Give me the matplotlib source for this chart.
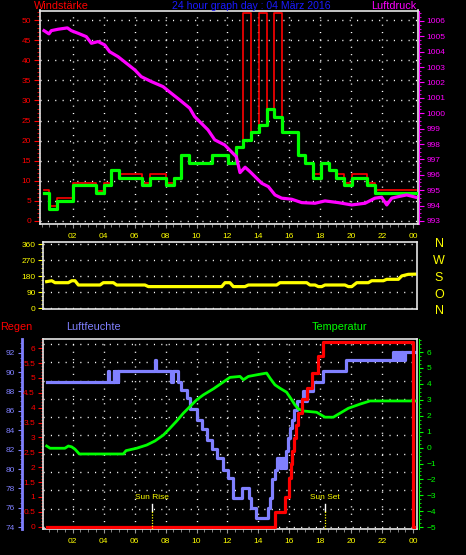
import numpy as np
import matplotlib
matplotlib.use('Agg')
import matplotlib.pyplot as plt
import matplotlib.transforms as mtransforms
from matplotlib.ticker import MultipleLocator

plt.rcParams['font.family'] = ['Liberation Sans', 'DejaVu Sans']

# --- Data ---

hour_ticks = list(range(2, 25, 2))
hour_labels = ['02', '04', '06', '08', '10', '12', '14', '16', '18', '20', '22', '00']

# wind speed: mean (green) and gusts (red), as steps
wind_hours = [0.15, 0.47, 0.99, 2.02, 3.53, 4.02, 4.46, 4.97, 6.48, 6.98, 8.01, 8.53,
              9.00, 9.52, 11.00, 12.02, 12.55, 13.02, 13.52, 14.06, 14.57, 15.01, 15.50,
              16.54, 17.01, 17.51, 18.04, 18.56, 19.01, 19.53, 20.03, 21.03, 21.53, 24.16]
wind_avg = [7.0, 3.0, 5.0, 8.9, 7.0, 8.9, 12.7, 10.8, 8.9, 10.8, 8.9, 10.8,
            16.4, 14.5, 16.4, 14.5, 18.3, 20.1, 22.1, 23.9, 27.9, 25.9, 22.2,
            16.4, 14.5, 10.8, 14.5, 12.7, 10.8, 8.9, 10.8, 8.9, 7.0, 7.0]
wind_gust = [7.6, 3.8, 5.6, 9.5, 7.4, 9.5, 12.7, 11.6, 9.5, 11.6, 9.5, 10.8,
             16.4, 14.5, 16.4, 14.5, 18.3, 51.7, 22.1, 51.7, 27.9, 51.7, 22.2,
             16.4, 14.5, 11.6, 14.5, 12.7, 11.6, 9.5, 11.6, 9.5, 7.6, 7.6]

# air pressure (hPa)
press_hours = [0.15, 0.47, 0.62, 1.05, 1.66, 1.91, 2.35, 2.88, 3.21, 3.64, 4.07, 4.39,
               4.93, 5.47, 6.01, 6.43, 7.08, 7.84, 8.37, 8.91, 9.56, 9.88, 10.31, 10.74,
               11.18, 11.82, 12.25, 12.57, 12.81, 13.14, 13.46, 13.78, 14.21, 14.64, 15.07,
               15.50, 16.15, 16.80, 17.66, 18.30, 19.16, 20.03, 20.89, 21.53, 21.96, 22.29,
               22.61, 23.04, 23.58, 24.16]
pressure = [1005.37, 1005.16, 1005.37, 1005.46, 1005.55, 1005.37, 1005.20, 1004.98,
            1004.55, 1004.66, 1004.44, 1004.00, 1003.68, 1003.25, 1002.82, 1002.38,
            1002.06, 1001.73, 1001.30, 1000.87, 1000.33, 999.78, 999.35, 998.92,
            998.27, 997.94, 997.50, 997.18, 996.14, 996.49, 996.20, 995.88, 995.45,
            995.23, 994.69, 994.48, 994.41, 994.19, 994.15, 994.30, 994.19, 994.04,
            994.15, 994.48, 994.54, 994.04, 994.48, 994.58, 994.69, 994.54]

# wind direction (degrees)
dir_hours = [0.32, 0.65, 0.86, 1.72, 1.94, 2.15, 2.37, 3.77, 3.98, 4.63, 4.84, 6.67,
             6.89, 11.63, 11.84, 12.16, 12.38, 13.13, 13.35, 15.18, 15.39, 17.12, 17.33,
             17.66, 17.87, 18.09, 18.30, 19.59, 19.81, 20.03, 20.35, 21.10, 21.32, 22.07,
             22.29, 23.04, 23.26, 23.68, 24.12]
wind_dir = [150, 155, 144, 144, 155, 155, 131, 131, 144, 144, 131, 131,
            122, 122, 144, 144, 122, 122, 131, 131, 144, 144, 131,
            131, 122, 122, 131, 131, 122, 122, 144, 144, 155, 155,
            163, 163, 182, 191, 192]

compass = ['N', 'W', 'S', 'O', 'N']

# humidity (%), steps
hum_hours = [0.32, 4.30, 4.34, 4.66, 4.70, 4.75, 4.80, 4.85, 4.90, 4.95, 7.32, 7.37,
             8.37, 8.45, 8.80, 9.02, 9.37, 9.58, 10.01, 10.38, 10.66, 10.98, 11.30,
             11.73, 12.05, 12.33, 12.91, 13.38, 13.51, 13.84, 14.63, 14.74, 14.89, 15.07,
             15.22, 15.39, 15.54, 15.65, 15.76, 15.88, 16.04, 16.19, 16.30, 16.47, 16.90,
             17.00, 17.12, 17.50, 18.15, 19.65, 22.71, 22.78, 22.85, 22.92, 23.00, 23.07,
             23.14, 23.25, 23.29, 23.42, 23.46, 24.12]
humidity = [89.0, 90.1, 89.0, 90.1, 89.0, 90.1, 89.0, 90.1, 89.0, 90.1, 91.2, 90.1,
            89.0, 90.1, 89.0, 88.2, 87.3, 86.2, 85.1, 84.1, 83.0, 82.1, 81.1,
            79.9, 79.1, 77.0, 78.0, 77.0, 76.0, 75.0, 76.0, 77.0, 79.0, 79.9,
            81.1, 80.1, 81.1, 80.1, 81.9, 83.2, 84.2, 85.1, 86.1, 87.0, 88.0,
            87.0, 88.0, 89.0, 90.1, 91.2, 92.1, 91.2, 92.1, 91.2, 92.1, 91.2,
            92.1, 91.2, 92.1, 91.2, 92.1, 92.1]

# temperature (deg C)
temp_hours = [0.32, 0.54, 1.50, 1.72, 1.93, 2.15, 2.43, 5.27, 5.45, 6.13, 6.78, 7.32,
              7.86, 8.29, 8.72, 9.15, 9.58, 10.01, 10.44, 11.09, 11.63, 12.16, 12.81,
              13.03, 13.35, 13.89, 14.53, 14.75, 15.07, 15.39, 15.82, 16.15, 16.36, 16.58,
              16.90, 17.76, 18.30, 18.84, 19.27, 19.81, 20.56, 21.21, 24.12]
temperature = [0.10, -0.04, -0.04, 0.10, 0.05, -0.10, -0.40, -0.40, -0.19, -0.04, 0.16, 0.42,
               0.79, 1.22, 1.67, 2.16, 2.58, 3.00, 3.31, 3.69, 4.05, 4.41, 4.47,
               4.26, 4.47, 4.57, 4.68, 4.36, 3.94, 3.73, 3.48, 3.00, 2.68, 2.43,
               2.30, 2.22, 1.91, 1.91, 2.16, 2.47, 2.73, 2.93, 2.93]

# rain (mm, cumulative), steps
rain_hours = [0.32, 15.07, 15.72, 15.97, 16.10, 16.20, 16.30, 16.42, 16.55, 16.79,
              17.16, 17.48, 17.87, 18.20, 23.96, 24.05]
rain = [0.0, 0.5, 1.0, 1.64, 2.09, 2.54, 2.99, 3.41, 3.83, 4.28,
        4.67, 5.17, 5.74, 6.22, 0.0, 0.0]

sun_rise = 7.15
sun_set = 18.3

# --- Layout helpers ---
W, H = 466, 555
FRAME = '#e6e6e6'
DOT = (0, (0.8, 4.5))
GREEN = '#00ff00'
MAGENTA = '#ff00ff'
LAVENDER = '#8080ff'


def px_box(left, top, right, bottom):
    return [left / W, 1 - bottom / H, (right - left) / W, (bottom - top) / H]


def hour_lim(left, right):
    # 00h sits at x=41.7 px, 15.48 px per hour in the reference
    return ((left - 41.7) / 15.48, (right - 41.7) / 15.48)


def frame(ax):
    for s in ax.spines.values():
        s.set_color(FRAME)
        s.set_linewidth(1.2)


def hide_spines(ax, keep=None):
    for name, s in ax.spines.items():
        if name != keep:
            s.set_visible(False)


def fig_text(x, y, s, **kw):
    fig.text(x / W, 1 - y / H, s, **kw)


fig = plt.figure(figsize=(W / 100, H / 100), dpi=100, facecolor='black')

# --- Top panel: wind speed + pressure ---
ax1 = fig.add_axes(px_box(39.5, 10.5, 417.7, 224))
ax1.set_facecolor('black')
ax1.set_xlim(*hour_lim(39.5, 417.7))
ax1.set_ylim(-0.75, 52.4)
ax1.step(wind_hours, wind_gust, where='post', color='red', lw=1.2, zorder=2)
ax1.step(wind_hours, wind_avg, where='post', color=GREEN, lw=2.3, zorder=3)
ax1.set_yticks(np.arange(0, 51, 5))
ax1.yaxis.set_minor_locator(MultipleLocator(1))
ax1.set_xticks(hour_ticks, hour_labels)
ax1.xaxis.set_minor_locator(MultipleLocator(0.5))
ax1.tick_params(axis='y', which='both', colors='red', labelsize=6, pad=2)
ax1.tick_params(axis='y', which='major', length=4)
ax1.tick_params(axis='y', which='minor', length=2)
ax1.tick_params(axis='x', which='both', colors='#999999', labelcolor='yellow',
                labelsize=6, pad=3.5)
ax1.tick_params(axis='x', which='major', length=3)
ax1.tick_params(axis='x', which='minor', length=2)
ax1.grid(True, color='white', ls=DOT, lw=1)
frame(ax1)

ax1p = ax1.twinx()
ax1p.set_ylim(992.8, 1006.68)
ax1p.plot(press_hours, pressure, color=MAGENTA, lw=2.3)
ax1p.set_yticks(range(993, 1007))
ax1p.yaxis.set_minor_locator(MultipleLocator(0.25))
ax1p.tick_params(axis='y', which='both', colors=MAGENTA, labelsize=6, pad=2)
ax1p.tick_params(axis='y', which='major', length=3.5)
ax1p.tick_params(axis='y', which='minor', length=1.5)
hide_spines(ax1p, 'right')
ax1p.spines['right'].set_color(MAGENTA)
ax1p.spines['right'].set_position(('outward', 1))

fig_text(61.3, 6, 'Windstärke', color='red', fontsize=7.8, ha='center', va='center')
fig_text(251.3, 6, '24 hour graph day : 04 März 2016', color='#1a1aff', fontsize=7.6,
         ha='center', va='center')
fig_text(393.7, 6, 'Luftdruck', color=MAGENTA, fontsize=7.8, ha='center', va='center')

# --- Middle panel: wind direction ---
ax2 = fig.add_axes(px_box(43.3, 241.7, 416.7, 309))
ax2.set_facecolor('black')
ax2.set_xlim(*hour_lim(43.3, 416.7))
ax2.set_ylim(-4, 374.6)
ax2.plot(dir_hours, wind_dir, color='yellow', lw=2.3)
ax2.set_yticks([0, 90, 180, 270, 360])
ax2.yaxis.set_minor_locator(MultipleLocator(22.5))
ax2.set_xticks([])
ax2.tick_params(axis='y', which='both', colors='yellow', labelsize=6, pad=2)
ax2.tick_params(axis='y', which='major', length=3.5)
ax2.tick_params(axis='y', which='minor', length=1.5)
ax2.grid(axis='y', color='white', ls=DOT, lw=1)
frame(ax2)

for y, letter in zip([244.3, 261, 278, 295, 311], compass):
    fig_text(439, y, letter, color='yellow', fontsize=9, ha='center', va='center')

# --- Bottom panel: humidity, temperature, rain ---
ax3 = fig.add_axes(px_box(42.7, 339, 417.3, 529.3))
ax3.set_facecolor('black')
ax3.set_xlim(*hour_lim(42.7, 417.3))
ax3.set_ylim(73.79, 93.41)
for f in np.linspace(0.012, 0.974, 11):
    ax3.plot([0, 1], [f, f], transform=ax3.transAxes, color='white', ls=DOT, lw=1,
             zorder=0.5)
ax3.grid(axis='x', color='white', ls=DOT, lw=1)
ax3.step(hum_hours, humidity, where='post', color=LAVENDER, lw=2.3)
ax3.set_yticks(range(74, 93, 2))
ax3.yaxis.set_minor_locator(MultipleLocator(0.5))
ax3.tick_params(axis='y', which='both', colors=LAVENDER, labelsize=6, pad=2)
ax3.tick_params(axis='y', which='major', length=3)
ax3.tick_params(axis='y', which='minor', length=1.5)
ax3.set_xticks(hour_ticks, hour_labels)
ax3.xaxis.set_minor_locator(MultipleLocator(0.5))
ax3.tick_params(axis='x', which='both', colors='#999999', labelcolor='yellow',
                labelsize=6, pad=3.5)
ax3.tick_params(axis='x', which='major', length=3)
ax3.tick_params(axis='x', which='minor', length=2)
frame(ax3)
ax3.spines['left'].set_color(LAVENDER)
ax3.spines['left'].set_linewidth(2)
ax3.spines['left'].set_position(('outward', 15))

ax3t = ax3.twinx()
ax3t.set_ylim(-5.13, 6.82)
ax3t.plot(temp_hours, temperature, color=GREEN, lw=2)
ax3t.set_yticks(range(-5, 7))
ax3t.yaxis.set_minor_locator(MultipleLocator(0.25))
ax3t.tick_params(axis='y', which='both', colors=GREEN, labelsize=6, pad=2)
ax3t.tick_params(axis='y', which='major', length=3)
ax3t.tick_params(axis='y', which='minor', length=1.5)
hide_spines(ax3t, 'right')
ax3t.spines['right'].set_color(GREEN)
ax3t.spines['right'].set_position(('outward', 1.5))

ax3r = ax3.twinx()
ax3r.set_ylim(-0.09, 6.31)
ax3r.step(rain_hours, rain, where='post', color='red', lw=2.3)
rain_ticks = np.arange(0, 6.01, 0.5)
ax3r.yaxis.tick_left()
ax3r.set_yticks(rain_ticks, [f'{v:g}' for v in rain_ticks])
ax3r.yaxis.set_minor_locator(MultipleLocator(0.1))
ax3r.tick_params(axis='y', which='both', colors='red', labelsize=6, pad=2)
ax3r.tick_params(axis='y', which='major', length=3.5)
ax3r.tick_params(axis='y', which='minor', length=1.5)
hide_spines(ax3r, 'left')
ax3r.spines['left'].set_color(FRAME)
ax3r.spines['left'].set_linewidth(1.2)

trans = mtransforms.blended_transform_factory(ax3r.transData, ax3r.transAxes)
for h, label in [(sun_rise, 'Sun Rise'), (sun_set, 'Sun Set')]:
    ax3r.plot([h, h], [0.098, 0.133], transform=trans, color='white', lw=1)
    ax3r.plot([h, h], [0.0, 0.098], transform=trans, color='yellow', lw=0.9,
              ls=(0, (1, 1.2)))
    ax3r.text(h, 0.166, label, transform=trans, color='yellow', fontsize=6,
              ha='center', va='center')

fig_text(0.5, 327, 'Regen', color='red', fontsize=7.8, ha='left', va='center')
fig_text(93.3, 327, 'Luftfeuchte', color=LAVENDER, fontsize=7.8, ha='center', va='center')
fig_text(339.3, 327, 'Temperatur', color=GREEN, fontsize=7.8, ha='center', va='center')

fig.savefig('out.png', dpi=100, facecolor='black')
